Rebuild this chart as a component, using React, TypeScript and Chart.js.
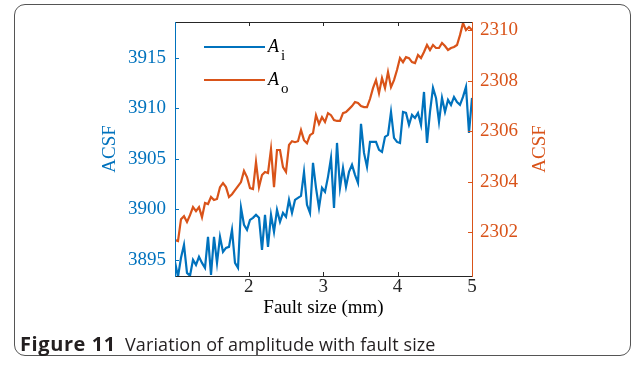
import React, { useEffect, useRef } from "react";
import { Chart, registerables } from "chart.js";

Chart.register(...registerables);

// ---- data ----
const FAULT_START = 1.01;
const FAULT_END = 5;

const ACSF_INNER = [
  3894.8, 3893.32, 3895.2, 3896.49, 3893.71, 3893.42, 3895.0, 3894.5, 3895.3, 3894.7,
  3894.21, 3897.28, 3893.51, 3897.28, 3894.7, 3897.28, 3895.79, 3896.19, 3896.29, 3897.97,
  3894.7, 3894.21, 3900.15, 3898.47, 3897.97, 3898.96, 3899.16, 3899.46, 3899.16, 3895.99,
  3899.46, 3896.29, 3899.46, 3897.77, 3899.95, 3898.76, 3899.65, 3899.26, 3900.94, 3899.65,
  3900.94, 3901.14, 3901.34, 3903.71, 3900.45, 3899.65, 3904.6, 3902.13, 3900.15, 3902.13,
  3901.73, 3903.22, 3905.1, 3900.15, 3906.58, 3902.13, 3904.11, 3902.23, 3903.71, 3904.41,
  3903.42, 3902.62, 3908.47, 3905.59, 3904.21, 3906.68, 3906.68, 3906.68, 3905.89, 3905.69,
  3907.18, 3907.38, 3909.65, 3907.08, 3906.68, 3906.58, 3909.65, 3909.55, 3908.37, 3909.36,
  3909.06, 3909.55, 3908.37, 3911.63, 3906.58, 3909.65, 3912.03, 3911.04, 3908.66, 3911.04,
  3909.65, 3910.84, 3910.35, 3911.14, 3910.64, 3910.35, 3911.14, 3912.13, 3907.57, 3911.04,
];

const ACSF_OUTER = [
  2301.68, 2301.64, 2302.51, 2302.63, 2302.4, 2302.67, 2302.99, 2302.83, 2302.99, 2302.59,
  2303.15, 2303.11, 2303.39, 2303.27, 2303.31, 2303.78, 2303.94, 2303.78, 2303.39, 2303.5,
  2303.66, 2303.82, 2303.98, 2304.42, 2304.18, 2303.74, 2303.7, 2304.77, 2303.78, 2304.26,
  2304.38, 2304.34, 2305.29, 2303.78, 2305.25, 2305.25, 2304.57, 2304.38, 2305.45, 2305.6,
  2305.56, 2305.6, 2306.04, 2305.64, 2305.52, 2305.84, 2305.92, 2306.63, 2306.28, 2306.55,
  2306.36, 2306.71, 2306.63, 2306.44, 2306.4, 2306.4, 2306.71, 2306.75, 2306.87, 2306.99,
  2307.15, 2307.11, 2306.99, 2306.95, 2306.95, 2307.27, 2307.7, 2308.02, 2307.5, 2308.1,
  2307.7, 2308.34, 2307.74, 2308.02, 2308.42, 2308.89, 2308.73, 2308.93, 2308.89, 2308.73,
  2308.69, 2309.01, 2308.89, 2309.13, 2309.41, 2309.21, 2309.41, 2309.29, 2309.29, 2309.49,
  2309.37, 2309.21, 2309.29, 2309.33, 2309.41, 2309.8, 2310.28, 2310.0, 2310.12, 2310.0,
];

const X_TICKS = [2, 3, 4, 5];
const LEFT_TICKS = [3895, 3900, 3905, 3910, 3915];
const RIGHT_TICKS = [2302, 2304, 2306, 2308, 2310];
const LEFT_MIN = 3893.4;
const LEFT_MAX = 3918.56;
const RIGHT_MIN = 2300.26;
const RIGHT_MAX = 2310.32;

const SERIES_SUBSCRIPTS = ["i", "o"];
const Y_TITLE = "ACSF";
const X_TITLE = "Fault size (mm)";
const CAPTION_LABEL = "Figure 11";
const CAPTION_TEXT = "Variation of amplitude with fault size";

// ---- styles ----
const BLUE = "#0072BD";
const ORANGE = "#D95319";
const DARK = "#262626";
const SERIF = '"Liberation Serif", "Times New Roman", serif';
const TICK_FONT = { family: SERIF, size: 19, lineHeight: 1 };
const TICK_LEN = 4;
const plain = (v: any) => String(v);

const decorPlugin = {
  id: "decor",
  afterDatasetsDraw(chart: any) {
    const { ctx, chartArea, scales } = chart;
    const { left, right, top, bottom } = chartArea;
    const seg = (x1: number, y1: number, x2: number, y2: number) => {
      ctx.beginPath();
      ctx.moveTo(x1, y1);
      ctx.lineTo(x2, y2);
      ctx.stroke();
    };
    ctx.save();
    ctx.lineWidth = 1;
    // top / bottom frame + x ticks
    ctx.strokeStyle = DARK;
    seg(left, top + 0.5, right, top + 0.5);
    seg(left, bottom + 0.5, right, bottom + 0.5);
    X_TICKS.forEach((v) => {
      const px = Math.round(scales.x.getPixelForValue(v)) + 0.5;
      seg(px, bottom, px, bottom - TICK_LEN);
      seg(px, top, px, top + TICK_LEN);
    });
    // left axis
    ctx.strokeStyle = BLUE;
    seg(left + 0.5, top, left + 0.5, bottom + 1);
    LEFT_TICKS.forEach((v) => {
      const py = Math.round(scales.y.getPixelForValue(v)) + 0.5;
      seg(left, py, left + TICK_LEN, py);
    });
    // right axis
    ctx.strokeStyle = ORANGE;
    seg(right + 0.5, top, right + 0.5, bottom + 1);
    RIGHT_TICKS.forEach((v) => {
      const py = Math.round(scales.y1.getPixelForValue(v)) + 0.5;
      seg(right, py, right - TICK_LEN, py);
    });

    // axis titles
    const midY = (top + bottom) / 2;
    ctx.font = `19px ${SERIF}`;
    ctx.textAlign = "center";
    ctx.textBaseline = "middle";
    ctx.fillStyle = BLUE;
    ctx.save();
    ctx.translate(left - 65, midY);
    ctx.rotate(-Math.PI / 2);
    ctx.fillText(Y_TITLE, 0, 0);
    ctx.restore();
    ctx.fillStyle = ORANGE;
    ctx.save();
    ctx.translate(right + 68, midY);
    ctx.rotate(-Math.PI / 2);
    ctx.fillText(Y_TITLE, 0, 0);
    ctx.restore();
    ctx.fillStyle = "#000";
    ctx.fillText(X_TITLE, (left + right) / 2, bottom + 32);

    // legend
    const colors = [BLUE, ORANGE];
    SERIES_SUBSCRIPTS.forEach((sub, k) => {
      const y = top + 25 + k * 33;
      ctx.strokeStyle = colors[k];
      ctx.lineWidth = 2;
      seg(left + 29, y, left + 90, y);
      ctx.fillStyle = "#000";
      ctx.textAlign = "left";
      ctx.textBaseline = "alphabetic";
      ctx.font = `italic 18px ${SERIF}`;
      ctx.fillText("A", left + 93, y + 5);
      const w = ctx.measureText("A").width;
      ctx.font = `15px ${SERIF}`;
      ctx.fillText(sub, left + 93 + w + 2, y + 13);
    });
    ctx.restore();
  },
};

export default function App() {
  const ref = useRef<HTMLCanvasElement>(null);

  useEffect(() => {
    const n = ACSF_INNER.length;
    const xs = ACSF_INNER.map((_, i) => FAULT_START + ((FAULT_END - FAULT_START) * i) / (n - 1));
    const chart = new Chart(ref.current as HTMLCanvasElement, {
      type: "line",
      data: {
        datasets: [
          {
            label: "Ai",
            data: ACSF_INNER.map((v, i) => ({ x: xs[i], y: v })),
            yAxisID: "y",
            borderColor: BLUE,
            borderWidth: 2.2,
            pointRadius: 0,
            tension: 0,
            fill: false,
          },
          {
            label: "Ao",
            data: ACSF_OUTER.map((v, i) => ({ x: xs[i], y: v })),
            yAxisID: "y1",
            borderColor: ORANGE,
            borderWidth: 2.2,
            pointRadius: 0,
            tension: 0,
            fill: false,
          },
        ],
      },
      options: {
        animation: false,
        responsive: false,
        events: [],
        layout: { padding: { left: 0, right: 0, top: 22, bottom: 0 } },
        plugins: { legend: { display: false }, tooltip: { enabled: false } },
        scales: {
          x: {
            type: "linear",
            min: FAULT_START,
            max: FAULT_END,
            afterBuildTicks: (s: any) => {
              s.ticks = X_TICKS.map((v) => ({ value: v }));
            },
            afterFit: (s: any) => {
              s.height = 90;
            },
            grid: { display: false, drawTicks: false },
            border: { display: false },
            ticks: { color: DARK, font: TICK_FONT, padding: 2, maxRotation: 0, autoSkip: false, callback: plain },
          },
          y: {
            type: "linear",
            position: "left",
            min: LEFT_MIN,
            max: LEFT_MAX,
            afterBuildTicks: (s: any) => {
              s.ticks = LEFT_TICKS.map((v) => ({ value: v }));
            },
            afterFit: (s: any) => {
              s.width = 175;
            },
            grid: { display: false, drawTicks: false },
            border: { display: false },
            ticks: { color: BLUE, font: TICK_FONT, padding: 9, autoSkip: false, callback: plain },
          },
          y1: {
            type: "linear",
            position: "right",
            min: RIGHT_MIN,
            max: RIGHT_MAX,
            afterBuildTicks: (s: any) => {
              s.ticks = RIGHT_TICKS.map((v) => ({ value: v }));
            },
            afterFit: (s: any) => {
              s.width = 165;
            },
            grid: { display: false, drawTicks: false },
            border: { display: false },
            ticks: { color: ORANGE, font: TICK_FONT, padding: 8, autoSkip: false, callback: plain },
          },
        },
      },
      plugins: [decorPlugin],
    });
    return () => chart.destroy();
  }, []);

  return (
    <div style={{ position: "fixed", left: 0, top: 0, width: 637, height: 366, background: "#fff" }}>
      <div
        style={{
          position: "absolute",
          left: 14,
          top: 4,
          width: 617,
          height: 352,
          border: "1.5px solid #555",
          borderRadius: 11,
          boxSizing: "border-box",
        }}
      />
      <canvas ref={ref} width={637} height={366} style={{ position: "absolute", left: 0, top: 0, display: "block" }} />
      <div
        style={{
          position: "absolute",
          left: 20,
          top: 332,
          fontFamily: '"Open Sans", "Noto Sans", sans-serif',
          fontSize: 18,
          lineHeight: "24px",
          color: "#231f20",
          whiteSpace: "nowrap",
        }}
      >
        <span style={{ fontWeight: 700, fontSize: 20, letterSpacing: 0.6 }}>{CAPTION_LABEL}</span>
        <span style={{ letterSpacing: 0.1 }}>{"\u2002" + CAPTION_TEXT}</span>
      </div>
    </div>
  );
}
